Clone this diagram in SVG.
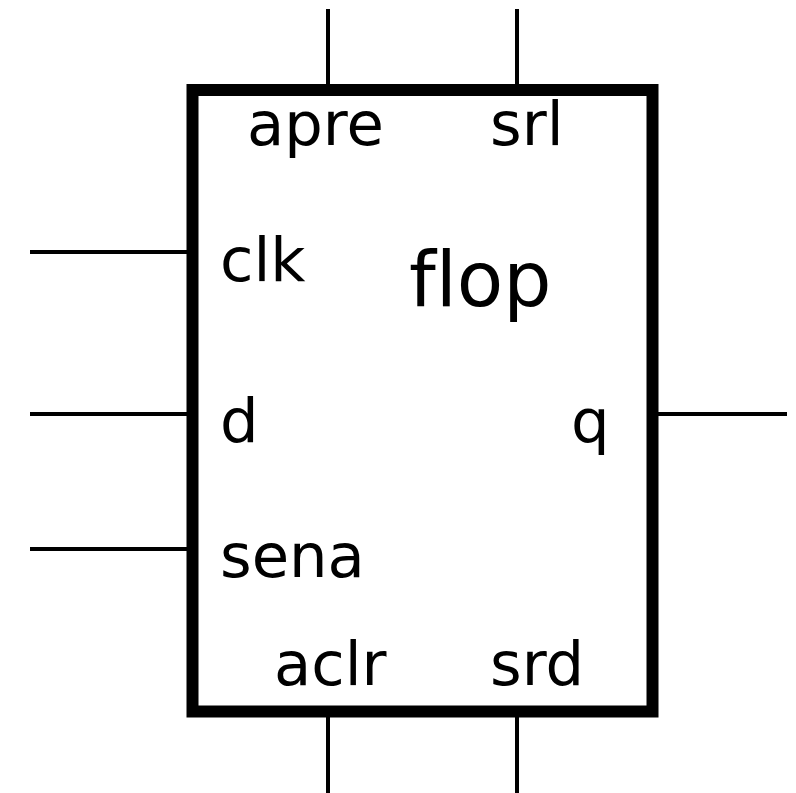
<svg xmlns="http://www.w3.org/2000/svg" width="796" height="793" viewBox="0 0 796 793">
<style>
text{font-family:"DejaVu Sans",sans-serif;font-size:60.800px;fill:#000;font-variant-ligatures:none}
.w{stroke:#000;stroke-width:4;fill:none}
</style>
<rect width="796" height="793" fill="#fff"/>
<g id="connectors">
<path class="w" d="M328 9V87"/><path class="w" d="M517 9V87"/>
<path class="w" d="M30 252H190"/><path class="w" d="M30 414H190"/><path class="w" d="M30 549H190"/>
<path class="w" d="M657 414H787"/>
<path class="w" d="M328 716V793"/><path class="w" d="M517 716V793"/>
</g>
<g id="flop"><rect x="192.500" y="90" width="460" height="621.500" fill="none" stroke="#000" stroke-width="12"/>
<text x="409" y="306" style="font-size:76px">flop</text></g>
<g id="apre"><text x="247" y="145">apre</text></g>
<g id="srl"><text x="490" y="145">srl</text></g>
<g id="clk"><text x="220" y="280.500">clk</text></g>
<g id="d"><text x="220" y="442">d</text></g>
<g id="q"><text x="571" y="442">q</text></g>
<g id="sena"><text x="220" y="577">sena</text></g>
<g id="aclr"><text x="274" y="685">aclr</text></g>
<g id="srd"><text x="490" y="685">srd</text></g>
</svg>
